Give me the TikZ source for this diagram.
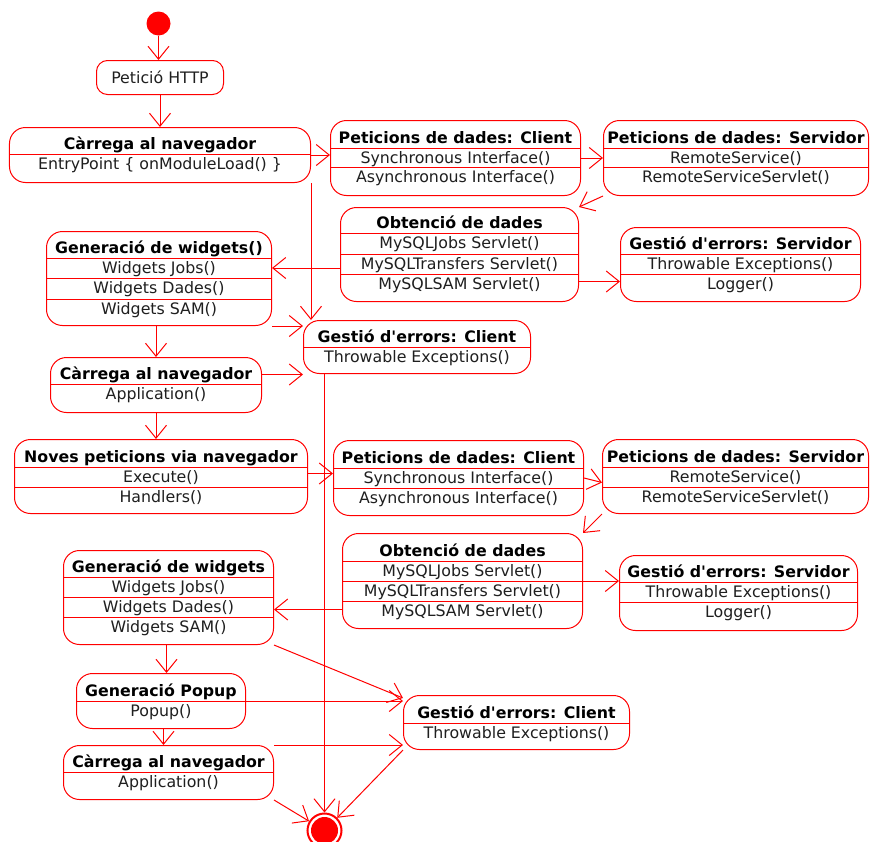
\documentclass[tikz,border=0pt]{standalone}
\usepackage{fontspec}
\setmainfont{DejaVu Sans}[Ligatures=TeXOff]
\usetikzlibrary{arrows.meta}

% One activity state: name, left, top, right, bottom, title baseline, title, rows (separator/text)
\newcommand{\umlstate}[8]{%
  \node[stbox, minimum width={(#4)-(#2)}, minimum height={(#5)-(#3)}]
    (#1) at ({((#2)+(#4))/2},{((#3)+(#5))/2}) {};
  \node[ttl] (#1-title) at ({((#2)+(#4))/2},#6) {#7};
  \foreach \sy/\rt [count=\k] in {#8} {
    \draw[rowline] (#2,\sy) -- (#4,\sy);
    \node[txt] (#1-\k) at ({((#2)+(#4))/2},{\sy+15}) {\rt};
  }%
}

\begin{document}
\begin{tikzpicture}[x=1pt,y=-1pt,
  stbox/.style={draw=red, line width=1pt, rounded corners=16pt, inner sep=0pt, fill=white},
  ttl/.style={font=\bfseries\fontsize{15.8}{18}\selectfont, text=black, inner sep=0pt, anchor=base},
  txt/.style={font=\fontsize{15.8}{18}\selectfont, text=black!88, inner sep=0pt, anchor=base},
  rowline/.style={draw=red, line width=1pt},
  flow/.style={draw=red, line width=1pt, -{Straight Barb[length=13pt,width=21pt]}}]

% half-pixel offset keeps the 1pt strokes on pixel centres
\useasboundingbox (-0.5,-0.5) rectangle (869.5,840.5);
\clip (-0.5,-0.5) rectangle (869.5,840.5);

% start and end
\node[circle, fill=red, minimum size=24pt, inner sep=0pt] (init) at (158,23) {};
\node[circle, draw=red, line width=2pt, fill=white, minimum size=34pt, inner sep=0pt] (final) at (324,830) {};
\node[circle, fill=red, minimum size=27pt, inner sep=0pt] (final-core) at (final.center) {};

% first request
\node[stbox, rounded corners=11pt, minimum width=127pt, minimum height=34pt] (http) at (159.5,77) {};
\node[txt] (http-title) at (159.5,83) {Petició HTTP};

\umlstate{load1}{9}{127}{310}{182}{148.5}{Càrrega al navegador}{154/EntryPoint \{ onModuleLoad() \}}
\umlstate{cli1}{330}{120}{580}{195}{142.5}{Peticions de dades: Client}{148/Synchronous Interface(),167/Asynchronous Interface()}
\umlstate{srv1}{603}{120}{868}{195}{142.5}{Peticions de dades: Servidor}{148/RemoteService(),167/RemoteServiceServlet()}
\umlstate{obt1}{340}{207}{578}{301}{227.5}{Obtenció de dades}{233/MySQLJobs Servlet(),254/MySQLTransfers Servlet(),274/MySQLSAM Servlet()}
\umlstate{gsrv1}{620}{227}{860}{301}{248.5}{Gestió d'errors: Servidor}{254/Throwable Exceptions(),274/Logger()}
\umlstate{wid1}{46}{231}{271}{325}{252.5}{Generació de widgets()}{258/Widgets Jobs(),278/Widgets Dades(),299/Widgets SAM()}
\umlstate{gcli1}{303}{320}{530}{373}{341.5}{Gestió d'errors: Client}{347/Throwable Exceptions()}
\umlstate{load2}{50}{357}{261}{412}{378.5}{Càrrega al navegador}{384/Application()}

% further requests
\umlstate{noves}{14}{439}{307}{513}{461.5}{Noves peticions via navegador}{467/Execute(),487/Handlers()}
\umlstate{cli2}{333}{440}{583}{515}{462.5}{Peticions de dades: Client}{468/Synchronous Interface(),488/Asynchronous Interface()}
\umlstate{srv2}{602}{439}{868}{513}{461.5}{Peticions de dades: Servidor}{467/RemoteService(),487/RemoteServiceServlet()}
\umlstate{obt2}{342}{533}{582}{628}{555.5}{Obtenció de dades}{561/MySQLJobs Servlet(),581/MySQLTransfers Servlet(),601/MySQLSAM Servlet()}
\umlstate{gsrv2}{619}{555}{857}{630}{576.5}{Gestió d'errors: Servidor}{582/Throwable Exceptions(),602/Logger()}
\umlstate{wid2}{63}{550}{273}{644}{571.5}{Generació de widgets}{577/Widgets Jobs(),597/Widgets Dades(),617/Widgets SAM()}
\umlstate{popup}{76}{673}{245}{728}{695.5}{Generació Popup}{701/Popup()}
\umlstate{load3}{63}{745}{273}{799}{766.5}{Càrrega al navegador}{772/Application()}
\umlstate{gcli2}{403}{695}{629}{749}{717.5}{Gestió d'errors: Client}{723/Throwable Exceptions()}

% transitions
\draw[flow] (init.south) -- (init.south |- http.north);
\draw[flow] (http.south) -- (http.south |- load1.north);
\draw[flow] (load1.east) -- (load1.east -| cli1.west);
\draw[flow] (cli1.east) -- (cli1.east -| srv1.west);
\draw[flow] (srv1.south west) -- (obt1.north east);
\draw[flow] ([yshift=-27pt]obt1.east) -- ([yshift=-27pt]obt1.east -| gsrv1.west);
\draw[flow] ([yshift=-13.5pt]obt1.west) -- ([yshift=-13.5pt]obt1.west -| wid1.east);
\draw[flow] (load1.south east) -- (load1.south east |- gcli1.north);
\draw[flow] (wid1.south east) -- (wid1.south east -| gcli1.west);
\draw[flow] (load2.north |- wid1.south) -- (load2.north);
\draw[flow] ([yshift=10.5pt]load2.east) -- ([yshift=10.5pt]load2.east -| gcli1.west);
\draw[flow] (load2.south) -- (load2.south |- noves.north);
\draw[flow] (final.north |- gcli1.south) -- (final.north);

\draw[flow] ([yshift=3pt]noves.east) -- ([yshift=3pt]noves.east -| cli2.west);
\draw[flow] (cli2.east) -- ([yshift=-6pt]srv2.west);
\draw[flow] (srv2.south west) -- (obt2.north east);
\draw[flow] (obt2.east) -- (obt2.east -| gsrv2.west);
\draw[flow] ([yshift=-28.5pt]obt2.west) -- ([yshift=-28.5pt]obt2.west -| wid2.east);
\draw[flow] ([xshift=-2pt]wid2.south) -- ([xshift=-2pt]wid2.south |- popup.north);
\draw[flow] ([xshift=2.5pt]popup.south) -- ([xshift=2.5pt]popup.south |- load3.north);
\draw[flow] (wid2.south east) -- ([yshift=-3pt]gcli2.north west);
\draw[flow] (popup.east) -- (popup.east -| gcli2.west);
\draw[flow] (load3.north east) -- (load3.north east -| gcli2.west);
\draw[flow] (load3.south east) -- (final);
\draw[flow] (gcli2.south west) -- (final.north east);
\end{tikzpicture}
\end{document}
